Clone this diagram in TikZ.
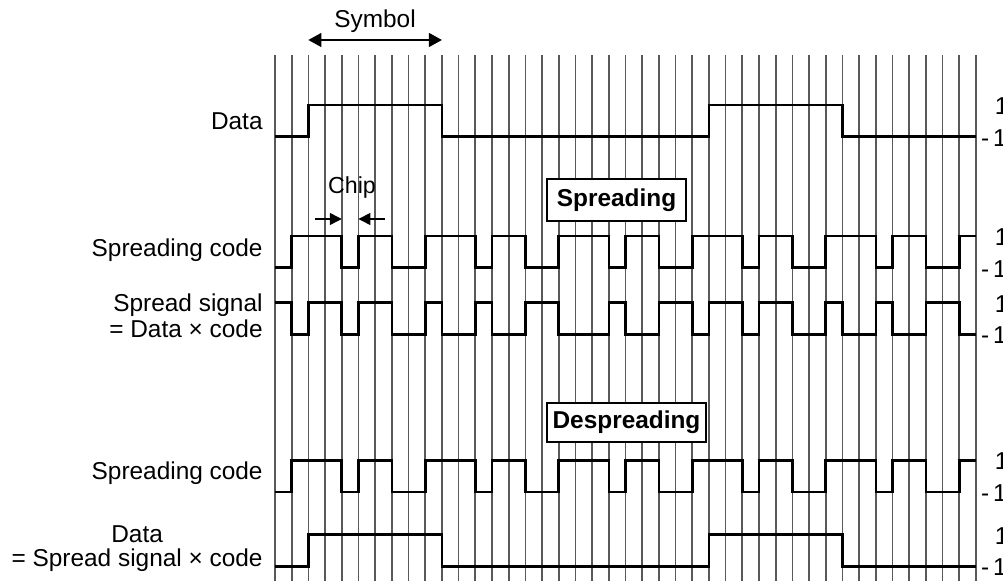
\documentclass[tikz,border=0pt]{standalone}
\usepackage{fontspec}
\setmainfont{Liberation Sans}
\usetikzlibrary{arrows.meta}
\newcommand\gridx{275}
\newcommand\gridp{16.69}
\newcommand\wamp{15.8}
\def\datalist{-1,-1,1,1,1,1,1,1,1,1,-1,-1,-1,-1,-1,-1,-1,-1,-1,-1,-1,-1,-1,-1,-1,-1,1,1,1,1,1,1,1,1,-1,-1,-1,-1,-1,-1,-1,-1}
\def\codelist{-1,1,1,1,-1,1,1,-1,-1,1,1,1,-1,1,1,-1,-1,1,1,1,-1,1,1,-1,-1,1,1,1,-1,1,1,-1,-1,1,1,1,-1,1,1,-1,-1,1}
\def\spreadlist{1,-1,1,1,-1,1,1,-1,-1,1,-1,-1,1,-1,-1,1,1,-1,-1,-1,1,-1,-1,1,1,-1,1,1,-1,1,1,-1,-1,1,-1,-1,1,-1,-1,1,1,-1}
\newcommand\drawwave[3]{%
  \draw[wave] (\gridx,{#1-\wamp*(#2)}) \foreach \v [count=\k from 0] in #3 {
    -- ({\gridx+\k*\gridp},{#1-\wamp*(\v)}) -- ({\gridx+(\k+1)*\gridp},{#1-\wamp*(\v)}) };}
\begin{document}
\begin{tikzpicture}[x=0.5pt,y=-0.5pt,
  every node/.style={font=\fontsize{12.2pt}{13pt}\selectfont},
  gridline/.style={line width=0.85pt,black!65},
  wave/.style={line width=1.3pt,black,line join=miter},
  lab/.style={inner sep=0pt,anchor=east},
  rlab/.style={inner sep=0pt,anchor=west},
  phase/.style={draw,line width=0.7pt,fill=white,inner sep=0pt,font=\fontsize{12.2pt}{13pt}\selectfont\bfseries},
  dim/.style={line width=0.7pt,{Triangle[length=6.5pt,width=7pt]}-{Triangle[length=6.5pt,width=7pt]}},
  chiparrow/.style={line width=0.7pt,-{Triangle[length=6pt,width=6pt]}}]
\useasboundingbox (0,0) rectangle (1003,581);
\clip (0,0) rectangle (1003,581);
% grid
\foreach \k in {0,...,42} \draw[gridline] ({\gridx+\k*\gridp},55) -- ({\gridx+\k*\gridp},581);
% waveforms
\drawwave{121}{-1}{\datalist}
\drawwave{252}{-1}{\codelist}
\drawwave{318.5}{1}{\spreadlist}
\drawwave{476.2}{-1}{\codelist}
\drawwave{550.5}{-1}{\datalist}
% phase boxes
\node[phase,minimum width=69.5pt,minimum height=21pt] (spreading) at (616.5,200) {Spreading};
\node[phase,minimum width=79.5pt,minimum height=19.5pt] (despreading) at (626.5,422.5) {Despreading};
% symbol dimension
\coordinate (sa) at ({\gridx+2*\gridp},40);
\coordinate (sb) at ({\gridx+10*\gridp},40);
\draw[dim] (sa) -- (sb);
\node (symbol) at (375,21) {Symbol};
% chip dimension
\coordinate (ca) at ({\gridx+4*\gridp},219);
\coordinate (cb) at ({\gridx+5*\gridp},219);
\coordinate (cal) at (315,219);
\coordinate (cbr) at (385,219);
\draw[chiparrow] (cal) -- (ca);
\draw[chiparrow] (cbr) -- (cb);
\node[inner sep=0pt,font=\fontsize{11.6pt}{13pt}\selectfont] (chip) at (352,188) {Chip};
% left labels
\node[lab] (ldata) at (263,121) {Data};
\node[lab] (lcode) at (263,250) {Spreading code};
\node[lab,align=right] (lspread) at (263,316) {Spread signal\\= Data × code};
\node[lab] (lcode2) at (263,473) {Spreading code};
\node[lab,align=center,font=\fontsize{12.2pt}{12pt}\selectfont] (ldata2) at (263,549) {Data\\= Spread signal × code};
% right labels
\foreach \y [count=\i] in {121,252,318.5,476.2,550.5} {
  \node[rlab] (one\i) at (994.4,{\y-\wamp+1}) {1};
  \node[rlab] (mone\i) at (980.6,{\y+\wamp+1}) {-\kern2pt 1};
}
\end{tikzpicture}
\end{document}
